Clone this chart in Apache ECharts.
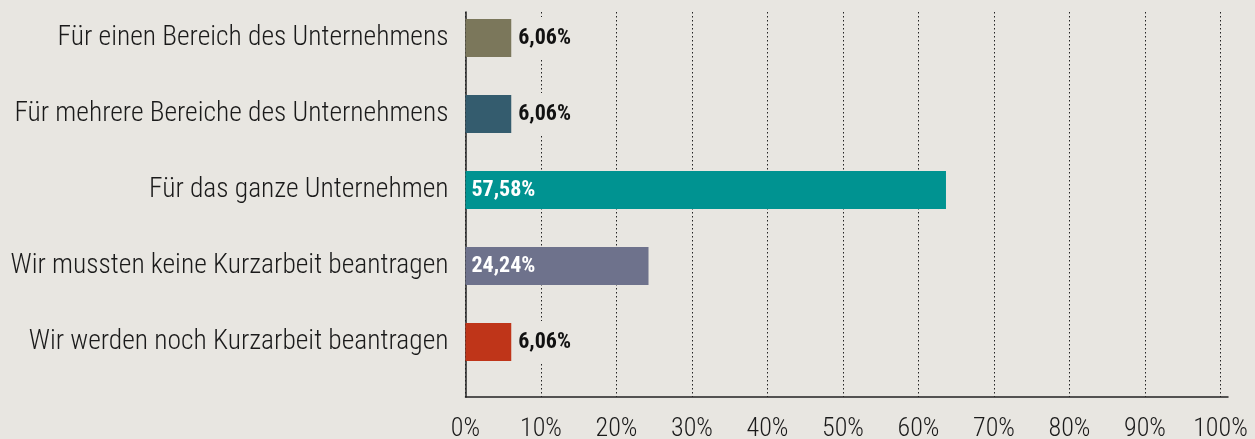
<!DOCTYPE html>
<html>
<head>
<meta charset="utf-8">
<script src="https://cdn.jsdelivr.net/npm/echarts@6/dist/echarts.min.js"></script>
<style>
html,body{margin:0;padding:0;background:#e8e6e1;}
#c{width:1255px;height:439px;}
</style>
</head>
<body>
<div id="c"></div>
<script>
const categories = [
  "Für einen Bereich des Unternehmens",
  "Für mehrere Bereiche des Unternehmens",
  "Für das ganze Unternehmen",
  "Wir mussten keine Kurzarbeit beantragen",
  "Wir werden noch Kurzarbeit beantragen"
];
const barValues = [6.06, 6.06, 63.64, 24.24, 6.06];
const valueLabels = ["6,06%", "6,06%", "57,58%", "24,24%", "6,06%"];
const barColors = ["#7b775b", "#345c6e", "#009391", "#6e728c", "#bf3519"];
const insideLabel = [false, false, true, true, false];
const tickValues = [0, 100, 10];

const FONT = "'Roboto Condensed', 'DejaVu Sans Condensed', sans-serif";
const BG = "#e8e6e1";
const LEFT = 465.5, W = 755;

const chart = echarts.init(document.getElementById('c'), null, {renderer: 'canvas'});
chart.setOption({
  backgroundColor: BG,
  animation: false,
  grid: [
    {left: LEFT, top: 0, width: W, height: 380, containLabel: false, outerBoundsMode: 'none'},
    {left: LEFT, top: 12, width: W, height: 385, containLabel: false, outerBoundsMode: 'none'},
    {left: LEFT, top: 12, width: W + 7.5, height: 385, containLabel: false, outerBoundsMode: 'none'}
  ],
  xAxis: [
    {gridIndex: 0, type: 'value', min: tickValues[0], max: tickValues[1], show: false},
    {gridIndex: 1, type: 'value', min: tickValues[0], max: tickValues[1], interval: tickValues[2],
     axisLine: {show: false}, axisTick: {show: false},
     splitLine: {show: true, lineStyle: {color: '#222', type: [1.5, 2.5], width: 1}},
     axisLabel: {formatter: v => v + '%', fontFamily: FONT, fontWeight: 300, fontSize: 26, color: '#1a1a1a', margin: 19}},
    {gridIndex: 2, type: 'value', min: 0, max: 1, axisLine: {show: true, lineStyle: {color: '#222', width: 1.5}},
     axisTick: {show: false}, splitLine: {show: false}, axisLabel: {show: false}}
  ],
  yAxis: [
    {gridIndex: 0, type: 'category', data: categories, inverse: true,
     axisLine: {show: false}, axisTick: {show: false}, splitLine: {show: false},
     axisLabel: {fontFamily: FONT, fontWeight: 300, fontSize: 27.5, color: '#1a1a1a', margin: 17}},
    {gridIndex: 1, type: 'value', min: 0, max: 1, axisLine: {show: true, lineStyle: {color: '#222', width: 1.5}},
     axisTick: {show: false}, splitLine: {show: false}, axisLabel: {show: false}},
    {gridIndex: 2, type: 'value', show: false}
  ],
  series: [{
    type: 'bar',
    xAxisIndex: 0, yAxisIndex: 0,
    barWidth: 38,
    z: 5,
    data: barValues.map((v, i) => ({
      value: v,
      itemStyle: {color: barColors[i]},
      label: insideLabel[i] ? {
        show: true, position: 'insideLeft', distance: 6, color: '#fff',
        formatter: valueLabels[i]
      } : {
        show: true, position: 'right', distance: 4, color: '#111',
        backgroundColor: BG, padding: [10, 3], lineHeight: 22,
        formatter: valueLabels[i]
      }
    })),
    label: {fontFamily: FONT, fontWeight: 'bold', fontSize: 22}
  }]
});
</script>
</body>
</html>
